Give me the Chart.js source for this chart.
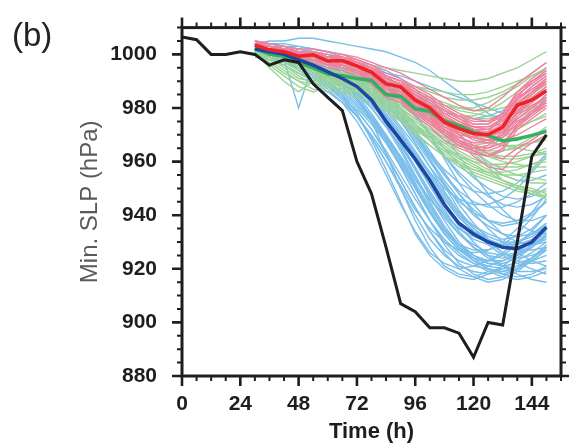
<!DOCTYPE html>
<html>
<head>
<meta charset="utf-8">
<script src="https://cdn.jsdelivr.net/npm/chart.js@4.4.1/dist/chart.umd.min.js"></script>
<style>
  html, body { margin: 0; padding: 0; background: #ffffff; }
  #slpChart { display: block; }
</style>
</head>
<body>
<canvas id="slpChart" width="569" height="448" style="width:569px;height:448px"></canvas>
<script>
// observed track: every 6 h from 0 to 150 h
const obsHours = [0, 6, 12, 18, 24, 30, 36, 42, 48, 54, 60, 66, 72, 78, 84, 90, 96, 102, 108, 114, 120, 126, 132, 138, 144, 150];
const obsSlp = [1006.5, 1005.5, 1000, 1000, 1001, 1000, 996, 998, 997, 989, 984, 979, 960, 948, 928, 907, 904, 898, 898, 896, 887, 900, 899, 930, 962, 970];

// ensemble forecasts start at 30 h
const ensHours = [30, 36, 42, 48, 54, 60, 66, 72, 78, 84, 90, 96, 102, 108, 114, 120, 126, 132, 138, 144, 150];

const blueMean = [1002, 1001, 1000, 998, 996, 993.5, 991, 988, 983, 975, 968, 961, 953, 944, 937, 933, 930, 928, 927.5, 930, 935.5];
const greenMean = [1002.3, 1000, 999.3, 997, 995, 992.7, 992, 991, 990.3, 985, 984.3, 979.7, 978.8, 975.2, 973.4, 971, 969.8, 967.7, 968.4, 969.8, 971.3];
const redMean = [1003.5, 1001.7, 1001, 999.3, 999.9, 997.5, 997.7, 995.7, 993.3, 989, 987.9, 983, 980, 974.7, 972.3, 970.5, 970, 972.9, 981, 983, 986.4];

const blueMembers = [
    [1003, 1002, 1001, 1000, 998, 995, 990, 984, 975, 963, 950, 938, 928, 921, 918, 917, 919, 920, 923, 926, 930],
    [1001, 1000, 999, 997, 994, 990, 985, 978, 968, 957, 945, 933, 925, 920, 917, 916, 918, 921, 925, 929, 932],
    [1004, 1003, 1002, 1001, 999, 997, 994, 990, 984, 976, 967, 957, 947, 938, 930, 925, 922, 921, 922, 924, 928],
    [1002, 1001, 1000, 998, 996, 993, 989, 984, 977, 968, 958, 948, 938, 930, 925, 922, 921, 923, 926, 930, 935],
    [1000, 999, 997, 994, 991, 987, 982, 975, 966, 955, 944, 934, 926, 922, 920, 921, 923, 926, 930, 933, 937],
    [1003, 1003, 1002, 1001, 1000, 998, 996, 993, 989, 984, 978, 970, 961, 951, 942, 935, 930, 926, 924, 925, 927],
    [1005, 1004, 1003, 1002, 1001, 1000, 998, 996, 993, 989, 984, 978, 970, 961, 952, 944, 938, 933, 930, 929, 930],
    [1002, 1000, 998, 995, 992, 988, 984, 979, 972, 963, 953, 943, 934, 927, 923, 921, 920, 918, 920, 924, 929],
    [999, 998, 996, 993, 990, 986, 982, 977, 970, 962, 953, 943, 934, 926, 920, 917, 915, 916, 919, 923, 927],
    [1004, 1004, 1003, 1003, 1002, 1001, 999, 997, 995, 992, 988, 983, 977, 970, 962, 955, 948, 942, 937, 934, 933],
    [1001, 1000, 999, 998, 996, 994, 991, 987, 982, 976, 969, 961, 953, 946, 940, 936, 933, 931, 932, 935, 940],
    [1003, 1002, 1001, 999, 997, 994, 990, 985, 978, 970, 961, 951, 941, 933, 927, 924, 923, 925, 929, 934, 940],
    [1002, 1001, 998, 980, 997, 995, 992, 988, 983, 977, 970, 962, 954, 946, 939, 934, 931, 929, 929, 931, 935],
    [1000, 999, 998, 996, 993, 990, 986, 981, 975, 968, 961, 953, 946, 940, 935, 932, 930, 929, 930, 933, 937],
    [1004, 1003, 1002, 1000, 998, 996, 993, 989, 984, 978, 971, 963, 955, 947, 940, 934, 929, 925, 922, 920, 918],
    [1002, 1001, 1000, 999, 997, 995, 992, 988, 982, 974, 965, 955, 945, 936, 929, 924, 920, 918, 917, 918, 921],
    [1003, 1002, 1002, 1001, 999, 997, 995, 991, 986, 980, 973, 966, 958, 951, 945, 941, 938, 937, 938, 941, 945],
    [1001, 1000, 998, 996, 993, 989, 984, 977, 969, 960, 950, 940, 931, 925, 921, 919, 918, 919, 921, 923, 925],
    [1005, 1004, 1004, 1003, 1002, 1001, 1000, 998, 996, 994, 991, 987, 982, 976, 970, 964, 959, 955, 953, 953, 955],
    [1002, 1001, 999, 997, 995, 992, 988, 983, 976, 968, 959, 950, 941, 934, 929, 927, 927, 929, 933, 939, 946],
    [1003, 1003, 1002, 1001, 1000, 998, 996, 993, 989, 984, 978, 971, 963, 955, 948, 942, 938, 936, 937, 940, 945],
    [1000, 999, 997, 995, 992, 988, 983, 977, 969, 960, 951, 942, 935, 930, 927, 926, 927, 930, 935, 941, 948],
    [1004, 1003, 1003, 1002, 1001, 999, 997, 994, 990, 985, 979, 972, 964, 956, 948, 941, 935, 930, 926, 923, 921],
    [1002, 1002, 1001, 1000, 999, 997, 995, 992, 988, 983, 977, 970, 962, 955, 949, 945, 943, 943, 945, 948, 952],
    [1003, 1002, 1001, 999, 997, 994, 991, 987, 982, 975, 967, 958, 949, 941, 935, 931, 929, 928, 928, 929, 931],
    [1001, 1001, 1000, 999, 998, 997, 996, 995, 994, 993, 992, 990, 988, 986, 984, 982, 980, 978, 978, 980, 985],
    [1004, 1005, 1005, 1006, 1006, 1005, 1004, 1003, 1002, 1001, 999, 997, 994, 990, 986, 982, 978, 975, 975, 978, 984],
    [1001, 1000, 999, 997, 995, 993, 990, 986, 981, 975, 968, 960, 951, 943, 936, 930, 925, 921, 918, 916, 915],
    [1003, 1002, 1001, 1000, 998, 996, 993, 989, 984, 977, 969, 960, 951, 942, 934, 928, 924, 921, 919, 919, 920],
    [1002, 1001, 1000, 998, 995, 992, 988, 983, 977, 970, 962, 954, 946, 939, 933, 929, 926, 925, 926, 928, 932],
    [1003, 1002, 1001, 999, 997, 995, 992, 988, 983, 977, 970, 963, 956, 950, 946, 944, 944, 946, 950, 956, 962],
    [1002, 1001, 999, 996, 993, 989, 985, 980, 974, 967, 959, 950, 941, 933, 927, 923, 921, 920, 921, 924, 928],
    [1004, 1003, 1002, 1001, 999, 997, 995, 992, 988, 982, 975, 967, 958, 949, 941, 935, 931, 928, 927, 927, 928],
    [1001, 1000, 998, 996, 993, 990, 986, 981, 975, 967, 958, 948, 938, 929, 922, 918, 916, 917, 920, 924, 928],
    [1003, 1002, 1001, 1000, 998, 996, 994, 991, 987, 982, 976, 969, 961, 953, 946, 940, 936, 933, 932, 933, 936],
    [1002, 1001, 1000, 998, 996, 993, 990, 986, 980, 973, 964, 954, 944, 935, 928, 923, 920, 919, 920, 923, 927],
    [1005, 1004, 1003, 1002, 1001, 999, 997, 995, 992, 988, 983, 977, 970, 962, 955, 949, 944, 940, 938, 938, 940],
    [1000, 999, 997, 995, 992, 988, 984, 979, 972, 964, 955, 946, 938, 931, 926, 922, 919, 917, 916, 917, 919],
    [1003, 1003, 1002, 1000, 998, 996, 993, 990, 985, 979, 972, 964, 956, 948, 941, 936, 932, 930, 930, 932, 936],
    [1002, 1001, 1000, 999, 997, 995, 993, 990, 986, 981, 975, 968, 960, 952, 944, 937, 931, 926, 923, 922, 923],
    [1001, 1000, 999, 997, 995, 992, 989, 985, 980, 973, 966, 957, 948, 940, 933, 928, 925, 924, 925, 928, 933],
    [1004, 1003, 1002, 1001, 1000, 999, 997, 995, 992, 988, 983, 977, 971, 965, 959, 954, 950, 947, 946, 947, 950],
    [1003, 1002, 1000, 998, 995, 992, 988, 983, 977, 969, 960, 951, 942, 934, 928, 924, 922, 922, 924, 928, 933],
    [1002, 1002, 1001, 1000, 999, 997, 995, 992, 989, 985, 980, 974, 968, 962, 956, 951, 947, 944, 943, 944, 947],
    [1001, 1000, 998, 996, 994, 991, 987, 982, 976, 969, 961, 952, 943, 935, 929, 925, 923, 923, 925, 929, 934],
    [1004, 1003, 1002, 1001, 999, 997, 995, 992, 988, 983, 977, 970, 963, 957, 952, 949, 948, 949, 952, 957, 963],
    [1003, 1002, 1002, 1001, 1000, 999, 998, 996, 994, 991, 988, 985, 982, 979, 977, 976, 977, 979, 983, 988, 992]
];

const greenMembers = [
    [1003, 1002, 1001, 1000, 999, 997, 996, 995, 994, 992, 990, 988, 986, 984, 983, 983, 984, 986, 989, 993, 997],
    [1002, 1000, 998, 996, 994, 992, 991, 990, 989, 987, 984, 981, 978, 975, 972, 970, 968, 966, 965, 964, 963],
    [1001, 995, 990, 986, 990, 992, 992, 991, 989, 986, 983, 979, 975, 971, 967, 964, 962, 960, 959, 958, 958],
    [1004, 1003, 1002, 1001, 1000, 999, 998, 997, 996, 995, 994, 993, 992, 991, 990, 990, 991, 993, 995, 998, 1001],
    [1002, 1001, 999, 997, 994, 991, 989, 987, 984, 980, 976, 972, 968, 964, 960, 957, 955, 953, 951, 950, 948],
    [1003, 1001, 999, 996, 993, 991, 990, 989, 988, 987, 986, 985, 984, 982, 980, 979, 979, 980, 982, 985, 989],
    [1000, 996, 992, 988, 986, 988, 989, 988, 986, 983, 979, 974, 969, 965, 961, 958, 956, 955, 955, 956, 957],
    [1002, 1001, 1000, 999, 997, 995, 994, 993, 992, 989, 986, 983, 980, 978, 977, 977, 979, 982, 986, 990, 994],
    [1003, 1002, 1000, 998, 996, 993, 990, 987, 984, 980, 976, 972, 969, 967, 966, 966, 967, 969, 972, 975, 978],
    [1001, 999, 997, 994, 991, 988, 986, 984, 982, 979, 975, 971, 966, 962, 958, 955, 953, 951, 949, 948, 946],
    [1004, 1003, 1001, 999, 998, 996, 995, 994, 992, 990, 987, 984, 981, 979, 977, 976, 976, 977, 979, 981, 983],
    [1002, 999, 995, 991, 990, 991, 991, 990, 989, 986, 983, 980, 977, 974, 971, 969, 967, 966, 966, 967, 968],
    [1003, 1002, 1001, 1000, 999, 998, 996, 994, 991, 988, 984, 980, 976, 972, 968, 965, 963, 962, 962, 963, 965],
    [1001, 1000, 998, 995, 993, 991, 989, 987, 985, 982, 979, 975, 971, 967, 963, 960, 957, 955, 953, 952, 952],
    [1003, 1002, 1002, 1001, 1000, 999, 998, 996, 994, 991, 988, 985, 983, 981, 980, 980, 982, 985, 988, 992, 995],
    [1002, 1001, 999, 997, 995, 993, 992, 991, 990, 988, 985, 981, 977, 972, 968, 964, 960, 957, 955, 954, 953],
    [1000, 998, 996, 993, 991, 990, 989, 988, 986, 984, 981, 978, 975, 973, 971, 970, 970, 971, 973, 975, 977],
    [1003, 1002, 1001, 999, 998, 997, 996, 995, 993, 990, 986, 982, 978, 974, 971, 969, 968, 968, 969, 970, 972],
    [1002, 1001, 1000, 999, 997, 995, 993, 991, 988, 985, 982, 979, 976, 972, 968, 963, 958, 953, 950, 948, 947],
    [1001, 998, 994, 990, 987, 986, 986, 986, 985, 983, 980, 976, 972, 969, 966, 964, 962, 961, 961, 962, 963],
    [1002, 1000, 998, 996, 993, 990, 988, 986, 983, 979, 975, 970, 966, 962, 959, 957, 956, 956, 957, 959, 961],
    [1003, 1002, 1000, 998, 996, 994, 992, 990, 987, 984, 980, 976, 972, 968, 964, 961, 959, 958, 958, 959, 960],
    [1001, 999, 996, 992, 989, 988, 987, 986, 984, 981, 977, 973, 969, 965, 962, 960, 959, 959, 960, 962, 964],
    [1004, 1003, 1002, 1000, 999, 997, 995, 993, 991, 988, 985, 982, 979, 976, 974, 973, 973, 974, 976, 979, 982],
    [1002, 1001, 999, 997, 995, 993, 991, 989, 986, 982, 978, 973, 968, 963, 959, 956, 954, 952, 950, 949, 949],
    [1003, 1002, 1001, 1000, 998, 996, 995, 993, 991, 989, 987, 985, 983, 981, 979, 978, 977, 977, 978, 980, 982],
    [1000, 997, 993, 990, 989, 989, 989, 988, 987, 985, 982, 978, 974, 970, 967, 965, 964, 964, 965, 967, 969],
    [1002, 1001, 1000, 998, 997, 995, 993, 991, 988, 985, 981, 977, 973, 969, 966, 964, 963, 964, 966, 969, 973],
    [1003, 1001, 1000, 998, 996, 994, 993, 992, 991, 990, 989, 988, 987, 986, 985, 985, 986, 988, 990, 992, 994],
    [1001, 1000, 998, 996, 994, 992, 990, 988, 985, 982, 978, 974, 970, 966, 962, 959, 956, 953, 951, 949, 947]
];

const pinkMembers = [
    [1005, 1004, 1003, 1002, 1002, 1001, 1000, 999, 997, 995, 993, 990, 987, 984, 981, 979, 980, 984, 989, 993, 997],
    [1004, 1002, 1001, 999, 999, 997, 996, 994, 991, 987, 984, 980, 976, 972, 969, 967, 968, 972, 978, 983, 988],
    [1003, 1001, 1000, 998, 998, 996, 996, 994, 992, 988, 986, 982, 979, 975, 972, 970, 969, 968, 970, 973, 976],
    [1004, 1003, 1002, 1001, 1001, 999, 999, 997, 995, 992, 990, 986, 983, 979, 976, 973, 972, 976, 984, 990, 994],
    [1002, 1000, 999, 997, 997, 995, 994, 992, 989, 984, 982, 977, 973, 968, 965, 963, 962, 965, 974, 979, 983],
    [1004, 1002, 1002, 1000, 1000, 998, 998, 996, 994, 990, 988, 984, 981, 977, 974, 972, 971, 974, 982, 986, 990],
    [1003, 1001, 1000, 998, 999, 996, 997, 995, 992, 988, 986, 981, 977, 972, 968, 964, 962, 964, 972, 976, 980],
    [1005, 1003, 1002, 1001, 1001, 999, 999, 998, 996, 993, 991, 988, 985, 981, 978, 976, 975, 978, 985, 989, 993],
    [1003, 1002, 1001, 999, 1000, 998, 998, 996, 993, 989, 987, 983, 979, 974, 970, 966, 963, 961, 965, 968, 972],
    [1004, 1002, 1001, 1000, 1000, 998, 998, 996, 993, 989, 987, 982, 978, 973, 970, 969, 971, 977, 984, 987, 990],
    [1002, 1000, 1000, 998, 998, 996, 996, 994, 990, 985, 983, 978, 974, 970, 967, 965, 966, 970, 977, 981, 984],
    [1004, 1003, 1002, 1000, 1001, 999, 999, 997, 995, 991, 989, 985, 982, 978, 975, 973, 973, 976, 983, 987, 991],
    [1003, 1001, 1001, 999, 999, 997, 997, 995, 992, 987, 985, 980, 976, 971, 967, 962, 958, 957, 963, 967, 970],
    [1005, 1003, 1002, 1001, 1001, 999, 998, 996, 994, 990, 988, 984, 981, 977, 974, 972, 972, 975, 982, 986, 989],
    [1003, 1002, 1001, 999, 999, 997, 997, 995, 992, 988, 986, 981, 978, 974, 971, 969, 968, 970, 976, 980, 985],
    [1004, 1002, 1001, 1000, 1000, 998, 999, 997, 995, 991, 989, 985, 981, 976, 972, 970, 970, 973, 980, 985, 990],
    [1003, 1001, 1000, 998, 999, 997, 996, 993, 990, 986, 983, 979, 975, 970, 966, 964, 965, 969, 975, 978, 982],
    [1004, 1003, 1002, 1001, 1001, 999, 1000, 998, 996, 992, 990, 987, 984, 980, 977, 975, 975, 978, 986, 991, 995],
    [1004, 1002, 1001, 999, 1000, 998, 997, 995, 993, 989, 987, 983, 980, 976, 973, 971, 970, 972, 978, 982, 986],
    [1003, 1002, 1001, 1000, 1000, 998, 998, 997, 994, 990, 988, 984, 980, 975, 971, 968, 967, 970, 979, 984, 988],
    [1005, 1004, 1003, 1001, 1001, 1000, 999, 997, 995, 992, 990, 987, 984, 980, 977, 974, 974, 977, 983, 988, 992],
    [1002, 1001, 1000, 998, 998, 996, 995, 993, 990, 986, 984, 979, 975, 971, 968, 966, 965, 967, 973, 977, 981],
    [1004, 1003, 1002, 1000, 1000, 998, 998, 996, 993, 990, 988, 985, 982, 978, 975, 972, 970, 971, 976, 980, 984],
    [1003, 1001, 1000, 999, 999, 997, 997, 995, 992, 988, 985, 981, 977, 973, 969, 967, 967, 971, 979, 983, 987],
    [1004, 1002, 1002, 1000, 1000, 999, 998, 996, 994, 991, 989, 986, 983, 979, 976, 974, 974, 978, 986, 990, 993],
    [1003, 1002, 1001, 999, 999, 997, 996, 994, 991, 987, 984, 980, 976, 972, 968, 965, 964, 966, 973, 978, 983],
    [1005, 1003, 1002, 1001, 1001, 999, 999, 997, 995, 991, 989, 985, 981, 977, 974, 971, 970, 973, 981, 986, 991],
    [1003, 1001, 1000, 998, 998, 996, 996, 994, 991, 987, 985, 981, 978, 974, 971, 969, 968, 969, 974, 978, 981]
];

const xTickLabels = [0, 24, 48, 72, 96, 120, 144];
const yTickLabels = [880, 900, 920, 940, 960, 980, 1000];

const BLUE_MEMBER = "rgb(122, 190, 234)";
const GREEN_MEMBER = "rgb(154, 212, 148)";
const PINK_MEMBER = "rgb(240, 128, 158)";
const BLUE_MEAN = "rgb(30, 72, 160)";
const GREEN_MEAN = "rgb(52, 176, 100)";
const RED_MEAN = "rgb(236, 36, 40)";
const BLACK = "#1e1e1e";
const TICK_FONT = { family: "'Liberation Sans', Arial, sans-serif", size: 21, weight: "bold" };

//turns a list of values into a line dataset on the given hours
function makeLine(hours, values, color, width, order) {
    return {
        data: hours.map((h, i) => ({ x: h, y: values[i] })),
        borderColor: color,
        borderWidth: width,
        pointRadius: 0,
        tension: 0,
        fill: false,
        order: order
    };
}

const datasets = [];
blueMembers.forEach(m => datasets.push(makeLine(ensHours, m, BLUE_MEMBER, 1.4, 5)));
greenMembers.forEach(m => datasets.push(makeLine(ensHours, m, GREEN_MEMBER, 1.4, 4)));
pinkMembers.forEach(m => datasets.push(makeLine(ensHours, m, PINK_MEMBER, 1.4, 3)));
datasets.push(makeLine(ensHours, blueMean, BLUE_MEAN, 3.5, 2));
datasets.push(makeLine(ensHours, greenMean, GREEN_MEAN, 3.5, 2));
datasets.push(makeLine(ensHours, redMean, RED_MEAN, 3.5, 1));
datasets.push(makeLine(obsHours, obsSlp, BLACK, 3, 0));

//draws the thick frame and the outward tick marks on all four sides
const frameTicks = {
    id: "frameTicks",
    afterDraw(chart) {
        const { ctx, chartArea: { top, bottom, left, right }, scales: { x, y } } = chart;
        ctx.save();
        ctx.strokeStyle = BLACK;
        ctx.lineCap = "butt";
        for (let h = 0; h <= 156; h += 6) {
            const px = x.getPixelForValue(h);
            const major = h % 24 == 0;
            const len = major ? 10 : 5;
            ctx.lineWidth = major ? 2.6 : 2;
            ctx.beginPath();
            ctx.moveTo(px, bottom);
            ctx.lineTo(px, bottom + len);
            ctx.moveTo(px, top);
            ctx.lineTo(px, top - len);
            ctx.stroke();
        }
        for (let v = 880; v <= 1010; v += 5) {
            const py = y.getPixelForValue(v);
            const major = v % 20 == 0;
            const len = major ? 10 : 5;
            ctx.lineWidth = major ? 2.6 : 2;
            ctx.beginPath();
            ctx.moveTo(left, py);
            ctx.lineTo(left - len, py);
            ctx.moveTo(right, py);
            ctx.lineTo(right + len, py);
            ctx.stroke();
        }
        ctx.lineWidth = 3;
        ctx.strokeRect(left, top, right - left, bottom - top);
        // panel letter
        ctx.fillStyle = "#222";
        ctx.font = "33px 'Liberation Sans', Arial, sans-serif";
        ctx.textAlign = "left";
        ctx.textBaseline = "alphabetic";
        ctx.fillText("(b)", 12, 46);
        ctx.restore();
    }
};

new Chart("slpChart", {
    type: "line",
    data: { datasets: datasets },
    options: {
        responsive: false,
        animation: false,
        layout: { padding: { left: 0, top: 16, right: 8, bottom: 0 } },
        scales: {
            x: {
                type: "linear",
                min: 0,
                max: 156,
                afterFit(scale) { scale.height = 72; },
                afterBuildTicks(scale) {
                    scale.ticks = xTickLabels.map(v => ({ value: v }));
                },
                grid: { display: false, drawTicks: true, tickLength: 10 },
                border: { display: false },
                ticks: {
                    color: BLACK,
                    font: TICK_FONT,
                    padding: 6,
                    maxRotation: 0,
                    autoSkip: false,
                    callback: v => String(v)
                },
                title: {
                    display: true,
                    text: "Time (h)",
                    color: BLACK,
                    font: { family: "'Liberation Sans', Arial, sans-serif", size: 22, weight: "bold" },
                    padding: { top: 0, bottom: 3 }
                }
            },
            y: {
                type: "linear",
                min: 880,
                max: 1010,
                afterFit(scale) { scale.width = 182; },
                afterBuildTicks(scale) {
                    scale.ticks = yTickLabels.map(v => ({ value: v }));
                },
                grid: { display: false, drawTicks: true, tickLength: 10 },
                border: { display: false },
                ticks: {
                    color: BLACK,
                    font: TICK_FONT,
                    padding: 15,
                    autoSkip: false,
                    callback: v => String(v)
                },
                title: {
                    display: true,
                    text: "Min. SLP (hPa)",
                    color: "#5a5a5a",
                    font: { family: "'Liberation Sans', Arial, sans-serif", size: 24, weight: "normal" },
                    padding: { top: 76, bottom: 0 }
                }
            }
        },
        plugins: {
            legend: { display: false },
            tooltip: { enabled: false }
        }
    },
    plugins: [frameTicks]
});
</script>
</body>
</html>
